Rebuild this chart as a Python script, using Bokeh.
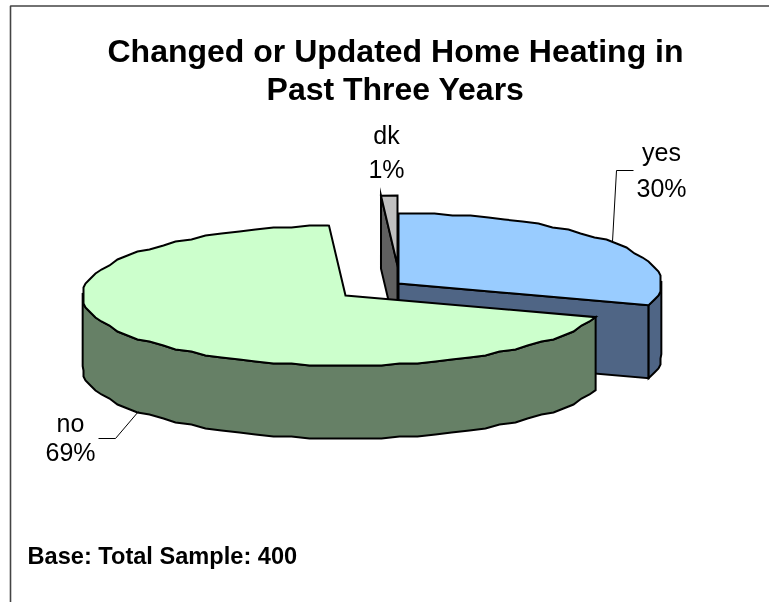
import numpy as np
from bokeh.embed import file_html
from bokeh.resources import INLINE
from bokeh.plotting import figure
from bokeh.core.properties import value as V

categories = ["yes", "no", "dk"]
values = [30, 69, 1]
labels = ["30%", "69%", "1%"]
top_colors = ["#99CCFF", "#CCFFCC", "#C0C0C0"]
side_colors = ["#4F6585", "#668066", "#606060"]
title_lines = ["Changed or Updated Home Heating in", "Past Three Years"]
note = "Base: Total Sample: 400"

RX, RY, DEPTH = 263, 70, 73
CENTERS = {"yes": (398, 283), "no": (345, 295), "dk": (397, 265)}
FONT = V("Liberation Sans")
GRID = 2.0
STEP = 4.0

p = figure(width=769, height=602, x_range=(0, 769), y_range=(602, 0),
           output_backend="svg", toolbar_location=None, min_border=0,
           x_axis_type=None, y_axis_type=None, outline_line_color=None,
           background_fill_color="white", border_fill_color="white")
p.grid.visible = False
p.styles = {"position": "fixed", "left": "0", "top": "0"}

# frame of the chart area
p.line([10, 10, 769], [602, 5.5, 5.5], line_color="#444444", line_width=1.6)


def rim(c, a, snap=True):
    r = np.radians(a)
    x, y = c[0] + RX * np.sin(r), c[1] - RY * np.cos(r)
    if snap:
        x = c[0] + np.round((x - c[0]) / GRID) * GRID
        y = c[1] + np.round((y - c[1]) / GRID) * GRID
    return (x, y)


def arc(c, a0, a1):
    # one fixed grid of angles, so that a wall and a top share their vertices
    inner = [k * STEP for k in range(int(a0 // STEP) + 1, int(np.ceil(a1 / STEP)))]
    pts = [rim(c, a0, snap=False)] + [rim(c, a) for a in inner] + [rim(c, a1, snap=False)]
    return [q[0] for q in pts], [q[1] for q in pts]


def patch(xs, ys, color):
    p.patch(xs, ys, fill_color=color, line_color="black", line_width=2,
            line_join="miter")


def cut_face(c, a, color):
    x, y = rim(c, a, snap=False)
    patch([c[0], x, x, c[0]], [c[1], y, y + DEPTH, c[1] + DEPTH], color)


def outer_wall(c, a0, a1, color):
    xs, ys = arc(c, a0, a1)
    patch(xs + xs[::-1], ys + [v + DEPTH for v in ys[::-1]], color)


def top_face(c, a0, a1, color):
    xs, ys = arc(c, a0, a1)
    patch([c[0]] + xs, [c[1]] + ys, color)


edges = np.cumsum([0] + values) * 360.0 / sum(values)
span = {n: (edges[i], edges[i + 1]) for i, n in enumerate(categories)}
top = dict(zip(categories, top_colors))
side = dict(zip(categories, side_colors))

# dk, then yes, then no (painter's order)
a0, a1 = span["dk"]
cut_face(CENTERS["dk"], a0, side["dk"])
top_face(CENTERS["dk"], a0, a1, top["dk"])

a0, a1 = span["yes"]
cut_face(CENTERS["yes"], a1, side["yes"])
outer_wall(CENTERS["yes"], 88, a1, side["yes"])
top_face(CENTERS["yes"], a0, a1, top["yes"])

a0, a1 = span["no"]
outer_wall(CENTERS["no"], a0, 272, side["no"])
top_face(CENTERS["no"], a0, a1, top["no"])

# leader lines
p.line([612, 616, 633], [241, 170, 170], line_color="black", line_width=1)
p.line([138, 115, 98], [411, 438, 438], line_color="black", line_width=1)

# title
p.text([395, 395], [50, 88.5], text=title_lines, text_font=FONT, text_font_style="bold",
       text_font_size="32px", text_align="center", text_baseline="middle", text_color="black")

# data labels
lab_pos = {"yes": (661, 151, 187), "no": (70, 422, 451), "dk": (386, 134.5, 168)}
for n, t in zip(categories, labels):
    x, y0, y1 = lab_pos[n]
    p.text([x, x], [y0, y1], text=[n, t], text_font=FONT, text_font_size="25px",
           text_align="center", text_baseline="middle", text_color="black")

p.text([27], [555], text=[note], text_font=FONT, text_font_style="bold",
       text_font_size="23.6px", text_align="left", text_baseline="middle", text_color="black")

open("out.html", "w").write(file_html(p, INLINE))
